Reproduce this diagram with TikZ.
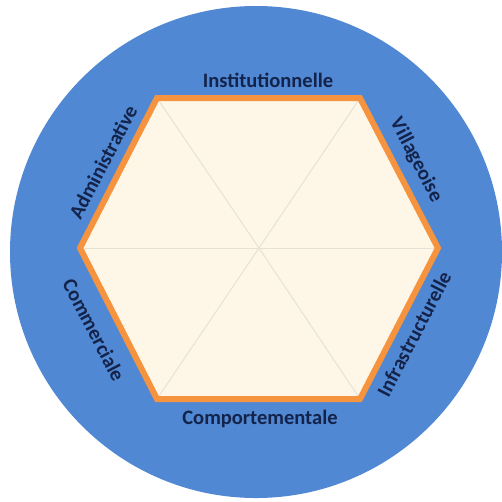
\documentclass[tikz,border=0pt]{standalone}
\usepackage{fontspec}
\setmainfont{Carlito}
\definecolor{ringblue}{HTML}{5088D3}
\definecolor{hexorange}{HTML}{F5933F}
\definecolor{hexfill}{HTML}{FEF7E8}
\definecolor{spoke}{HTML}{E6E2D6}
\definecolor{labelnavy}{HTML}{14234A}
\begin{document}
\begin{tikzpicture}[x=1pt,y=-1pt,
  lbl/.style={font=\bfseries\fontsize{20.5}{20.5}\selectfont, text=labelnavy, inner sep=0pt}]
\useasboundingbox (0,0) rectangle (502,501);
\fill[ringblue] (256,252) circle (246);
\coordinate (c) at (259,248);
\coordinate (v1) at (157,98);
\coordinate (v2) at (360,98);
\coordinate (v3) at (438,248);
\coordinate (v4) at (360,399);
\coordinate (v5) at (157,399);
\coordinate (v6) at (80,248);
\fill[hexfill] (v1) -- (v2) -- (v3) -- (v4) -- (v5) -- (v6) -- cycle;
\foreach \v in {v1,v2,v3,v4,v5,v6} \draw[spoke, line width=1pt] (c) -- (\v);
\draw[hexorange, line width=6pt, line join=miter] (v1) -- (v2) -- (v3) -- (v4) -- (v5) -- (v6) -- cycle;
\node[lbl] (inst) at (268,80) {Institutionnelle};
\node[lbl] (comp) at (260,419) {Comportementale};
\node[lbl, rotate=-62.5] (vill) at (416,160) {Villageoise};
\node[lbl, rotate=62.5] (admin) at (103,162) {Administrative};
\node[lbl, rotate=-62.5] (comm) at (94,330) {Commerciale};
\node[lbl, rotate=62.5] (infra) at (414,334) {Infrastructurelle};
\end{tikzpicture}
\end{document}
